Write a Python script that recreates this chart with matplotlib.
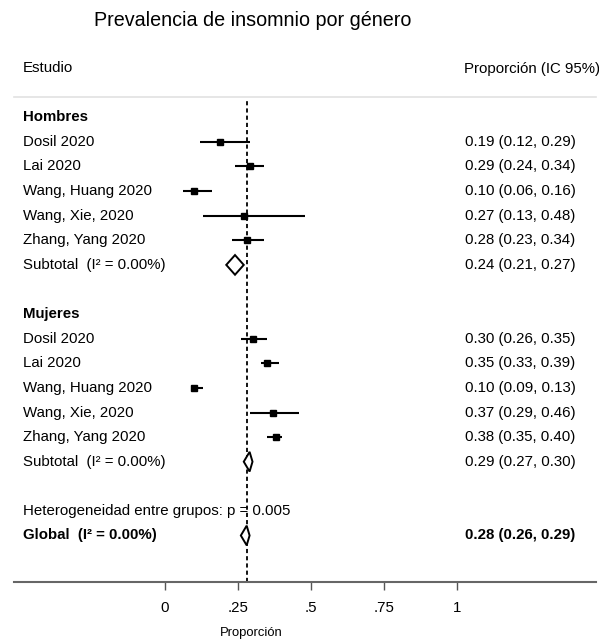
import matplotlib
matplotlib.use("Agg")
import matplotlib.pyplot as plt
import matplotlib.transforms as mtransforms
from matplotlib.patches import Polygon

plt.rcParams['font.family'] = ['Liberation Sans', 'DejaVu Sans']
plt.rcParams['lines.scale_dashes'] = False

# ---------------- data ----------------
groups = ["Hombres", "Mujeres"]
studies = ["Dosil 2020", "Lai 2020", "Wang, Huang 2020", "Wang, Xie, 2020", "Zhang, Yang 2020"]

men_est = [0.19, 0.29, 0.10, 0.27, 0.28]
men_lo = [0.12, 0.24, 0.06, 0.13, 0.23]
men_hi = [0.29, 0.34, 0.16, 0.48, 0.34]
men_sub = [0.24, 0.21, 0.27]  # est, lo, hi

women_est = [0.30, 0.35, 0.10, 0.37, 0.38]
women_lo = [0.26, 0.33, 0.09, 0.29, 0.35]
women_hi = [0.35, 0.39, 0.13, 0.46, 0.40]
women_sub = [0.29, 0.27, 0.30]

overall = [0.28, 0.26, 0.29]
het_p = "0.005"
i2_text = "0.00%"

xticks = [0, 0.25, 0.5, 0.75, 1]
xticklabels = ["0", ".25", ".5", ".75", "1"]

# marker sizes (style)
men_ms = [4.0, 5.0, 4.0, 3.8, 4.6]
women_ms = [4.6, 4.6, 4.2, 4.2, 4.2]

# ---------------- figure ----------------
W, H = 599, 643
fig = plt.figure(figsize=(W / 100, H / 100), dpi=100)

px0, px1 = 165.0, 456.7          # pixel x of proportion 0 and 1
ax_l, ax_r = 14.0, 596.0
ax_top, ax_bot = 97.0, 582.0
row0, rowh = 117.3, 24.6

ax = fig.add_axes([ax_l / W, 1 - ax_bot / H, (ax_r - ax_l) / W, (ax_bot - ax_top) / H])
scale = px1 - px0
ax.set_xlim((ax_l - px0) / scale, (ax_r - px0) / scale)
ax.set_ylim((ax_bot - row0) / rowh, (ax_top - row0) / rowh)

for s in ["left", "right"]:
    ax.spines[s].set_visible(False)
ax.spines["top"].set_color("#e2e2e2")
ax.spines["top"].set_linewidth(1.2)
ax.spines["bottom"].set_color("#666666")
ax.spines["bottom"].set_linewidth(1.5)
ax.set_yticks([])
ax.set_xticks(xticks)
ax.set_xticklabels(xticklabels, fontsize=10.8)
ax.tick_params(axis="x", length=6, width=1.0, color="#555555", pad=7.5)

tr = mtransforms.blended_transform_factory(fig.transFigure, ax.transData)
lab_x = 23 / W
val_x = 465 / W
fs = 10.8


def draw_diamond(y, est, lo, hi):
    hh = 0.40
    poly = Polygon([[lo, y], [est, y - hh], [hi, y], [est, y + hh]], closed=True,
                   facecolor="white", edgecolor="black", lw=1.4, zorder=5)
    ax.add_patch(poly)


y = 0
for g, est, lo, hi, sub, ms in [
    (groups[0], men_est, men_lo, men_hi, men_sub, men_ms),
    (groups[1], women_est, women_lo, women_hi, women_sub, women_ms),
]:
    fig.text(lab_x, y, g, transform=tr, fontsize=fs, fontweight="bold", va="center")
    y += 1
    for name, e, l, h, m in zip(studies, est, lo, hi, ms):
        fig.text(lab_x, y, name, transform=tr, fontsize=fs, va="center")
        ax.plot([l, h], [y, y], color="black", lw=1.5, solid_capstyle="butt", zorder=3)
        ax.plot([e], [y], marker="s", color="black", ms=m, zorder=4)
        fig.text(val_x, y, f"{e:.2f} ({l:.2f}, {h:.2f})", transform=tr, fontsize=fs, va="center")
        y += 1
    fig.text(lab_x, y, f"Subtotal  (I\u00b2 = {i2_text})", transform=tr, fontsize=fs, va="center")
    draw_diamond(y, *sub)
    fig.text(val_x, y, f"{sub[0]:.2f} ({sub[1]:.2f}, {sub[2]:.2f})", transform=tr, fontsize=fs, va="center")
    y += 2

fig.text(lab_x, y, f"Heterogeneidad entre grupos: p = {het_p}", transform=tr, fontsize=fs, va="center")
y += 1
fig.text(lab_x, y, f"Global  (I\u00b2 = {i2_text})", transform=tr, fontsize=fs, fontweight="bold", va="center")
draw_diamond(y, *overall)
fig.text(val_x, y, f"{overall[0]:.2f} ({overall[1]:.2f}, {overall[2]:.2f})", transform=tr,
         fontsize=fs, fontweight="bold", va="center")

# reference line at overall estimate
ax.axvline(overall[0], ymin=0, ymax=(ax_bot - 100) / (ax_bot - ax_top), color="black",
           lw=1.3, ls=(0, (3.0, 2.2)), zorder=2)

# headers and title
fig.text(253 / W, 1 - 21 / H, "Prevalencia de insomnio por género", ha="center", va="center",
         fontsize=14.2)
fig.text(lab_x, 1 - 68 / H, "Estudio", fontsize=fs, va="center")
fig.text(464 / W, 1 - 69 / H, "Proporción (IC 95%)", fontsize=fs, va="center")
fig.text(251 / W, 1 - 633 / H, "Proporción", fontsize=9.4, ha="center", va="center")

fig.savefig("out.png", dpi=100, facecolor="white")
